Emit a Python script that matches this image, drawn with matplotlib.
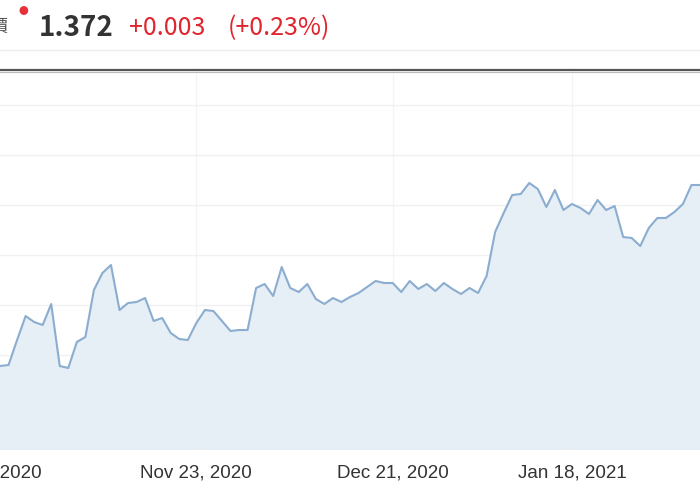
import matplotlib
matplotlib.use("Agg")
import matplotlib.pyplot as plt
from matplotlib.lines import Line2D

# ---- data ----
prices = [
    1.2956, 1.2960, 1.3060, 1.3156, 1.3132, 1.3120, 1.3204, 1.2956, 1.2948, 1.3052,
    1.3072, 1.3260, 1.3328, 1.3360, 1.3180, 1.3208, 1.3212, 1.3228, 1.3136, 1.3148,
    1.3088, 1.3064, 1.3060, 1.3128, 1.3180, 1.3176, 1.3136, 1.3096, 1.3100, 1.3100,
    1.3268, 1.3284, 1.3236, 1.3352, 1.3268, 1.3252, 1.3284, 1.3224, 1.3204, 1.3228,
    1.3212, 1.3232, 1.3248, 1.3272, 1.3296, 1.3288, 1.3288, 1.3252, 1.3296, 1.3264,
    1.3284, 1.3256, 1.3288, 1.3264, 1.3244, 1.3268, 1.3248, 1.3316, 1.3492, 1.3568,
    1.3640, 1.3644, 1.3688, 1.3664, 1.3592, 1.3660, 1.3580, 1.3604, 1.3588, 1.3564,
    1.3620, 1.3580, 1.3596, 1.3472, 1.3468, 1.3436, 1.3508, 1.3548, 1.3548, 1.3572,
    1.3604, 1.3680, 1.3680,
]
tick_labels = ["Oct 26, 2020", "Nov 23, 2020", "Dec 21, 2020", "Jan 18, 2021"]
tick_index = [-1.4, 23, 46, 67]
grid_values = [1.28, 1.30, 1.32, 1.34, 1.36, 1.38, 1.40]
header_label = "現價"
last_price = "1.372"
change = "+0.003"
change_pct = "(+0.23%)"

x = list(range(len(prices)))

fig = plt.figure(figsize=(7, 5), dpi=100)
ax = fig.add_axes([0.0, 0.10, 1.0, 0.76])
ax.set_xlim(0, len(prices) - 1)
ax.set_ylim(1.262, 1.414)

ax.fill_between(x, prices, 1.262, color="#e6eef6", zorder=1, linewidth=0)
ax.plot(x, prices, color="#8badd0", linewidth=1.5, zorder=3)

for g in grid_values:
    ax.axhline(g, color="#f1f1f1", linewidth=1, zorder=0.5)
for t in tick_index[1:]:
    ax.axvline(t, color="#eeeeee", linewidth=1, zorder=2, alpha=0.6)

for s in ax.spines.values():
    s.set_visible(False)
ax.set_xticks([])
ax.set_yticks([])

for t, lab in zip(tick_index, tick_labels):
    ax.text(t, -0.06, lab, transform=ax.get_xaxis_transform(), ha="center",
            va="center", fontsize=13.5, color="#333333",
            family=["Liberation Sans", "DejaVu Sans"], clip_on=False)

# top border of chart (double grey line)
fig.add_artist(Line2D([0, 1], [0.861, 0.861], transform=fig.transFigure,
                      color="#555555", linewidth=1.6))
fig.add_artist(Line2D([0, 1], [0.856, 0.856], transform=fig.transFigure,
                      color="#bbbbbb", linewidth=0.8))
# header separator
fig.add_artist(Line2D([0, 1], [0.90, 0.90], transform=fig.transFigure,
                      color="#ececec", linewidth=1))

# header texts
hfam = ["Noto Sans CJK TC", "DejaVu Sans"]
fig.text(8 / 700, 1 - 28 / 500, header_label, ha="right", va="center",
         fontsize=13, color="#555555", family=hfam)
fig.text(23 / 700, 1 - 11 / 500, "●", ha="center", va="center",
         fontsize=7, color="#e8303a", family=hfam)
fig.text(39 / 700, 1 - 28 / 500, last_price, ha="left", va="center",
         fontsize=20, color="#333333", family=hfam, fontweight="bold")
fig.text(129 / 700, 1 - 28 / 500, change, ha="left", va="center",
         fontsize=18, color="#e0252f", family=hfam)
fig.text(228 / 700, 1 - 28 / 500, change_pct, ha="left", va="center",
         fontsize=18, color="#e0252f", family=hfam)

fig.savefig("out.png", dpi=100)
